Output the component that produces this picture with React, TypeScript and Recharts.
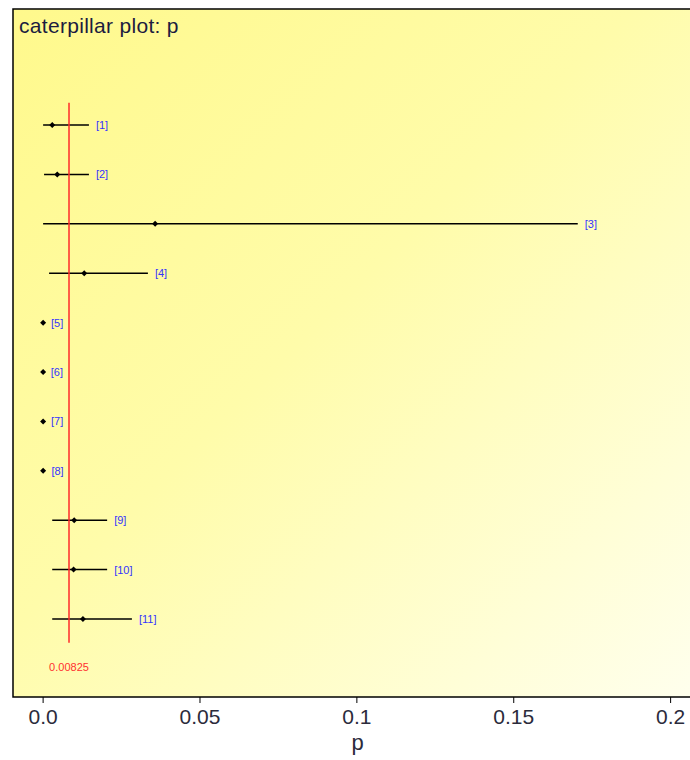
import React from "react";
import {
  ComposedChart,
  Scatter,
  XAxis,
  YAxis,
  ReferenceLine,
  ReferenceArea,
} from "recharts";

// one row per node: [1] .. [11]
const rowLabels = ["[1]", "[2]", "[3]", "[4]", "[5]", "[6]", "[7]", "[8]", "[9]", "[10]", "[11]"];
const means = [0.0029, 0.0045, 0.0357, 0.0131, 0, 0, 0, 0, 0.0099, 0.0097, 0.0127];
const lows = [0, 0.0003, 0, 0.0019, 0, 0, 0, 0, 0.0029, 0.0029, 0.0029];
const highs = [0.0146, 0.0146, 0.1704, 0.0334, 0.0003, 0.0002, 0.0003, 0.0004, 0.0204, 0.0204, 0.0283];
const overallMean = 0.00825;
const xTicks = [0, 0.05, 0.1, 0.15, 0.2];

const X_DOMAIN: [number, number] = [-0.0096, 0.21];
const Y_DOMAIN: [number, number] = [-1.35, 12.58];
const FONT = "'Liberation Sans', Arial, sans-serif";

const rows = rowLabels.map((label, i) => ({
  y: i + 1,
  mean: means[i],
  low: lows[i],
  high: highs[i],
  label,
}));

const pointData = rows.map((r) => ({ x: r.mean, y: r.y }));
const labelData = rows.map((r) => ({ x: r.high, y: r.y, label: r.label }));

const Diamond = (props: any) => {
  const { cx, cy } = props;
  const r = 3;
  return (
    <path
      d={`M${cx},${cy - r}L${cx + r},${cy}L${cx},${cy + r}L${cx - r},${cy}Z`}
      fill="#000"
    />
  );
};

const RowLabel = (props: any) => {
  const { cx, cy, payload } = props;
  return (
    <text x={cx + 7} y={cy + 4} fontSize={11} fill="#3434ff" fontFamily={FONT}>
      {payload.label}
    </text>
  );
};

const fmtTick = (v: number) => {
  if (v === 0) return "0.0";
  if (v === 0.1) return "0.1";
  if (v === 0.2) return "0.2";
  return String(v);
};

export default function App() {
  return (
    <div
      style={{
        position: "fixed",
        left: 0,
        top: 0,
        width: 690,
        height: 760,
        overflow: "hidden",
        background: "#fff",
      }}
    >
      <ComposedChart
        width={712}
        height={760}
        margin={{ top: 9, right: 10, bottom: 8, left: 13 }}
      >
        <defs>
          <linearGradient id="bg" x1="0" y1="0" x2="1" y2="1">
            <stop offset="0%" stopColor="#fff98c" />
            <stop offset="45%" stopColor="#fffcaa" />
            <stop offset="100%" stopColor="#ffffee" />
          </linearGradient>
        </defs>
        <XAxis
          type="number"
          dataKey="x"
          domain={X_DOMAIN}
          ticks={xTicks}
          tickFormatter={fmtTick}
          allowDataOverflow
          height={55}
          axisLine={false}
          tickLine={{ stroke: "#000" }}
          tickSize={6}
          tickMargin={6}
          tick={{ fill: "#2b2b3b", fontSize: 21, fontFamily: FONT }}
          label={{
            value: "p",
            position: "insideBottom",
            offset: 2,
            fill: "#2b2b3b",
            fontSize: 22,
            fontFamily: FONT,
          }}
        />
        <YAxis type="number" dataKey="y" domain={Y_DOMAIN} reversed hide allowDataOverflow />
        <ReferenceArea
          x1={X_DOMAIN[0]}
          x2={X_DOMAIN[1]}
          y1={Y_DOMAIN[0]}
          y2={Y_DOMAIN[1]}
          fill="url(#bg)"
          fillOpacity={1}
          stroke="#000"
          strokeWidth={1.5}
        />
        {rows.map((r) => (
          <ReferenceLine
            key={r.label}
            segment={[
              { x: r.low, y: r.y },
              { x: r.high, y: r.y },
            ]}
            stroke="#000"
            strokeWidth={1.5}
            ifOverflow="visible"
          />
        ))}
        <ReferenceLine
          segment={[
            { x: overallMean, y: 0.55 },
            { x: overallMean, y: 11.48 },
          ]}
          stroke="#ff2a2a"
          strokeWidth={1.5}
          label={{
            value: "0.00825",
            position: "bottom",
            offset: 21,
            fill: "#ff3030",
            fontSize: 11,
            fontFamily: FONT,
          }}
        />
        <Scatter data={pointData} shape={<Diamond />} isAnimationActive={false} />
        <Scatter data={labelData} shape={<RowLabel />} isAnimationActive={false} />
      </ComposedChart>
      <div
        style={{
          position: "absolute",
          left: 19,
          top: 14,
          fontFamily: FONT,
          fontSize: 21,
          letterSpacing: 0.3,
          color: "#1c1c40",
        }}
      >
        caterpillar plot: p
      </div>
    </div>
  );
}
